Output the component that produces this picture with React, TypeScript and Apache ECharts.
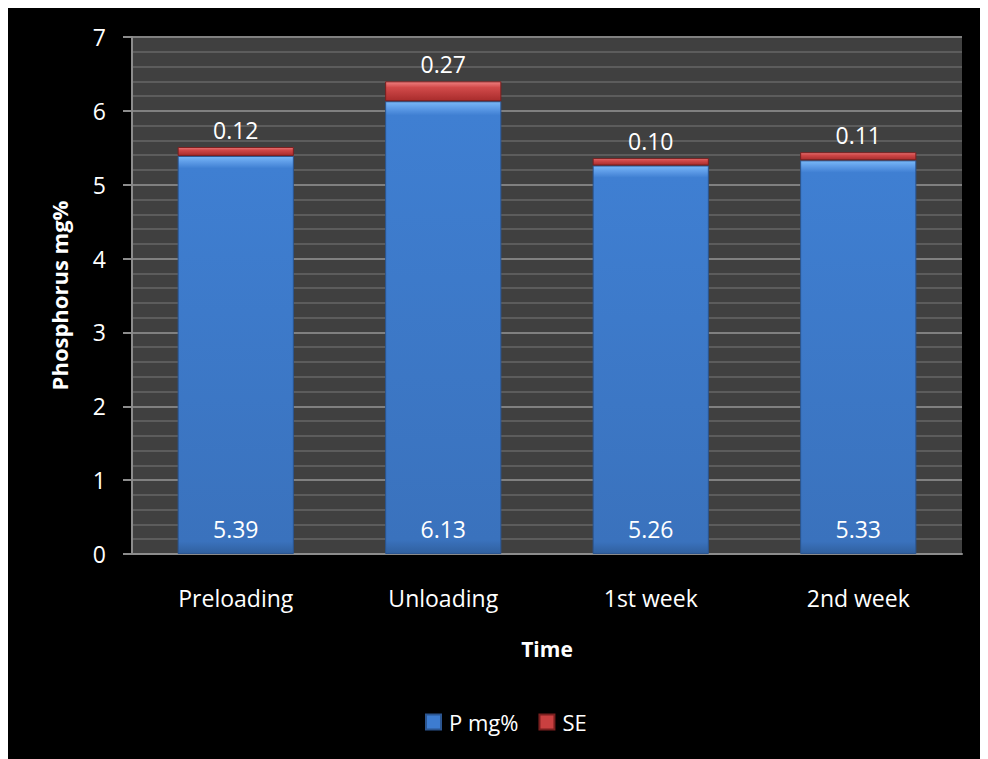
import React, { useEffect, useRef } from "react";
import * as echarts from "echarts";

const categories = ["Preloading", "Unloading", "1st week", "2nd week"];
const pValues = [5.39, 6.13, 5.26, 5.33];
const seValues = [0.12, 0.27, 0.1, 0.11];
const seLabels = ["0.12", "0.27", "0.10", "0.11"];

const FONT = "'Open Sans', 'Noto Sans', sans-serif";

export default function App() {
  const ref = useRef<HTMLDivElement>(null);
  useEffect(() => {
    if (!ref.current) return;
    const chart = echarts.init(ref.current, null, { renderer: "svg" });
    const blue = new echarts.graphic.LinearGradient(0, 0, 0, 1, [
      { offset: 0, color: "#79b8f7" },
      { offset: 0.015, color: "#5c9ae6" },
      { offset: 0.03, color: "#3f7fd2" },
      { offset: 0.97, color: "#3a72bd" },
      { offset: 1, color: "#30609f" },
    ]);
    const red = new echarts.graphic.LinearGradient(0, 0, 0, 1, [
      { offset: 0, color: "#f08080" },
      { offset: 0.3, color: "#d24a4a" },
      { offset: 1, color: "#a82c2c" },
    ]);
    chart.setOption({
      animation: false,
      backgroundColor: "#000000",
      textStyle: { fontFamily: FONT, color: "#ffffff" },
      grid: {
        left: 124,
        right: 26,
        top: 29,
        bottom: 205,
        show: true,
        backgroundColor: "#404040",
        borderWidth: 0,
      },
      legend: {
        top: 698,
        left: 412,
        itemWidth: 15,
        itemHeight: 15,
        itemGap: 20,
        textStyle: { color: "#ffffff", fontSize: 22, fontFamily: FONT, padding: [0, 0, 0, 3] },
        data: [
          { name: "P mg%", icon: "rect", itemStyle: { color: "#3d7cd0" } },
          { name: "SE", icon: "rect", itemStyle: { color: "#c94040" } },
        ],
      },
      xAxis: {
        type: "category",
        data: categories,
        name: "Time",
        nameLocation: "middle",
        nameGap: 84,
        nameTextStyle: { color: "#ffffff", fontSize: 21, fontWeight: "bold", fontFamily: FONT },
        axisLine: { show: true, lineStyle: { color: "#8c8c8c", width: 2 } },
        axisTick: { show: false },
        axisLabel: { color: "#ffffff", fontSize: 23, margin: 32, fontFamily: FONT },
        splitLine: { show: false },
      },
      yAxis: {
        type: "value",
        min: 0,
        max: 7,
        interval: 1,
        name: "Phosphorus mg%",
        nameLocation: "middle",
        nameGap: 62,
        nameTextStyle: { color: "#ffffff", fontSize: 22, fontWeight: "bold", fontFamily: FONT },
        axisLine: { show: true, lineStyle: { color: "#8c8c8c", width: 2 } },
        axisTick: { show: true, length: 9, lineStyle: { color: "#8c8c8c", width: 2 } },
        axisLabel: { color: "#ffffff", fontSize: 23, margin: 26, fontFamily: FONT },
        splitLine: { show: true, lineStyle: { color: "#808080", width: 2 } },
        minorTick: { show: false, splitNumber: 5 },
        minorSplitLine: { show: true, lineStyle: { color: "#5c5c5c", width: 2 } },
      },
      series: [
        {
          name: "P mg%",
          type: "bar",
          stack: "total",
          barWidth: "56%",
          data: pValues,
          itemStyle: { color: blue, borderColor: "#2b5590", borderWidth: 1 },
          label: {
            show: true,
            position: "insideBottom",
            distance: 14,
            color: "#ffffff",
            fontSize: 23,
            fontFamily: FONT,
            formatter: (p: any) => p.value.toFixed(2),
          },
        },
        {
          name: "SE",
          type: "bar",
          stack: "total",
          barWidth: "56%",
          data: seValues,
          itemStyle: { color: red, borderColor: "#7a1f1f", borderWidth: 1 },
          label: {
            show: true,
            position: "top",
            distance: 6,
            color: "#ffffff",
            fontSize: 23,
            fontFamily: FONT,
            formatter: (p: any) => seLabels[p.dataIndex],
          },
        },
      ],
    });
    return () => chart.dispose();
  }, []);
  return <div ref={ref} style={{ width: 980, height: 751 }} />;
}
